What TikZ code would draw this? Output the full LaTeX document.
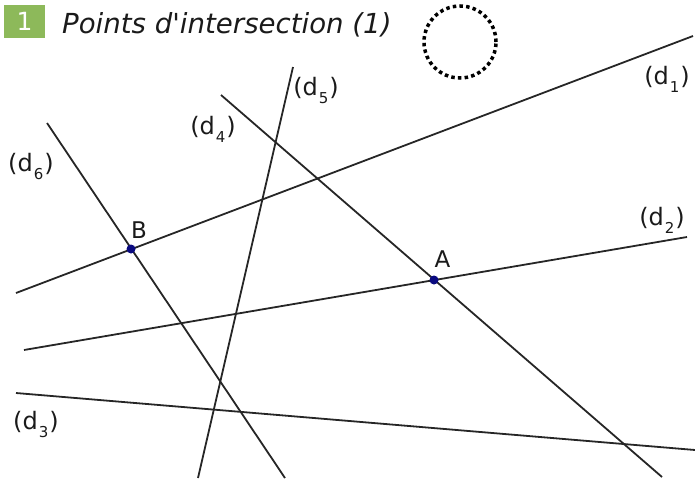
\documentclass[tikz,border=0pt]{standalone}
\usepackage{fontspec}
\setmainfont{DejaVu Sans}
\newfontfamily\titlefont[Ligatures=TeXOff]{DejaVu Sans}
\definecolor{boxgreen}{HTML}{8DB95A}
\definecolor{ptblue}{HTML}{0A0A80}
\definecolor{txt}{HTML}{1A1A1A}
\newcommand{\dlab}[1]{(d\kern1pt\raisebox{-8pt}{\fontsize{15}{16}\selectfont #1}\kern1pt)}
\begin{document}
\begin{tikzpicture}[x=1pt,y=-1pt,
  ln/.style={line width=1.8pt,color=black!85},
  lbl/.style={inner sep=0pt,font=\fontsize{24}{26}\selectfont,text=txt},
  ptl/.style={inner sep=0pt,font=\fontsize{23}{25}\selectfont,text=txt},
  pt/.style={circle,fill=ptblue,inner sep=0pt,minimum size=9pt}]
\useasboundingbox (0,0) rectangle (695,482);
% title
\node[fill=boxgreen,minimum width=41pt,minimum height=33pt,inner sep=0pt,text=white,font=\fontsize{25}{27}\selectfont] (num) at (24.5,21.5) {1};
\node[anchor=base west,inner sep=0pt,font=\titlefont\fontsize{27.6}{29}\selectfont\itshape,text=txt] (title) at (62,33) {Points d'intersection (1)};
\node[circle,draw,line width=3.5pt,dash pattern=on 3.5pt off 3.2pt,minimum size=72pt,inner sep=0pt] (circ) at (460,42) {};
% line endpoints
\coordinate (d1a) at (16,293); \coordinate (d1b) at (693,36);
\coordinate (d2a) at (24,350); \coordinate (d2b) at (687,237);
\coordinate (d3a) at (16,393); \coordinate (d3b) at (695,450);
\coordinate (d4a) at (221,95); \coordinate (d4b) at (662,477);
\coordinate (d5a) at (293,67); \coordinate (d5b) at (198,478);
\coordinate (d6a) at (47,123); \coordinate (d6b) at (285,478);
\draw[ln] (d1a) -- (d1b);
\draw[ln] (d2a) -- (d2b);
\draw[ln] (d3a) -- (d3b);
\draw[ln] (d4a) -- (d4b);
\draw[ln] (d5a) -- (d5b);
\draw[ln] (d6a) -- (d6b);
\node[pt] (B) at (131,249) {};
\node[pt] (A) at (434,280) {};
\node[ptl] (lB) at (139,230) {B};
\node[ptl] (lA) at (442.5,259) {A};
\node[lbl] (l1) at (667,79) {\dlab{1}};
\node[lbl] (l2) at (662,220) {\dlab{2}};
\node[lbl] (l3) at (36,424) {\dlab{3}};
\node[lbl] (l4) at (213,129) {\dlab{4}};
\node[lbl] (l5) at (316,90) {\dlab{5}};
\node[lbl] (l6) at (31,166) {\dlab{6}};
\end{tikzpicture}
\end{document}
